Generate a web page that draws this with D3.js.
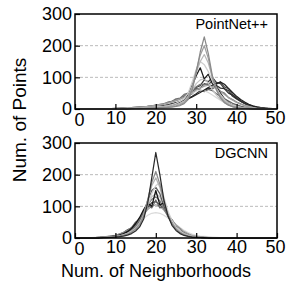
<!DOCTYPE html>
<html>
<head>
<meta charset="utf-8">
<script src="https://cdn.jsdelivr.net/npm/d3@7/dist/d3.min.js"></script>
<style>
  html, body { margin: 0; padding: 0; background: #fff; }
  text { font-family: "Liberation Sans", Arial, sans-serif; fill: #000; }
</style>
</head>
<body>
<div class="start"></div>
<script>
// number of neighborhoods (x) for every series
var neighborhoods = d3.range(0, 51);
var xTicks = [0, 10, 20, 30, 40, 50];
var yTicks = [0, 100, 200, 300];
var gridTicks = [100, 200];

// PointNet++ curves, drawn in this order
var pnColors = ["#3a3a3a", "#505050", "#747474", "#2e2e2e", "#646464", "#d9d9d9", "#222222", "#a0a0a0",
                "#c4c4c4", "#1a1a1a", "#cfcfcf", "#b8b8b8", "#9e9e9e", "#8a8a8a"];
var pnValues = [
  [0,0,0,0,0,0,0,1,1,1, 2,2,3,3,4,5,5,6,8,9, 11,13,15,18,22,26,31,38,45,55, 68,74,92,86,100,84,80,64,58,40, 32,24,17,12,8,5,3,2,1,1, 0],
  [0,0,0,0,0,0,0,0,1,1, 1,2,2,3,4,4,5,6,7,8, 10,12,14,17,20,24,28,34,40,48, 62,66,80,76,90,78,86,70,64,46, 36,26,18,12,8,5,3,2,1,1, 1],
  [0,0,0,0,0,0,0,0,0,1, 1,1,2,3,3,4,5,6,7,9, 11,15,14,22,24,32,34,46,50,64, 70,78,76,80,70,68,56,50,36,30, 22,16,11,8,5,3,2,1,1,0, 0],
  [0,0,0,0,0,0,0,0,1,1, 1,1,2,2,3,3,4,5,6,7, 8,10,12,14,17,20,24,28,34,40, 48,58,56,66,64,74,66,64,50,44, 33,25,18,13,9,6,4,2,1,1, 0],
  [0,0,0,0,0,0,0,1,1,1, 1,2,2,3,4,5,6,7,8,10, 12,14,17,20,24,28,33,40,50,58, 65,60,55,62,58,48,40,32,25,18, 13,9,6,4,3,2,1,1,0,0, 0],
  [0,0,0,0,0,0,0,0,0,1, 1,1,2,2,3,3,4,5,6,7, 9,11,13,16,19,23,28,34,42,50, 56,60,58,52,44,36,28,21,15,10, 7,5,3,2,1,1,0,0,0,0, 0],
  [0,0,0,0,0,0,0,0,0,0, 0,1,1,2,2,3,3,4,5,6, 7,9,11,13,16,19,23,27,32,38, 45,52,60,68,75,80,85,78,65,52, 40,30,22,15,10,7,4,3,2,1, 1],
  [0,0,0,0,0,0,0,0,1,1, 2,2,3,4,4,5,6,7,8,10, 12,14,16,19,23,27,32,38,45,52, 60,66,72,75,70,64,56,46,36,28, 21,15,11,8,5,3,2,1,1,0, 0],
  [0,0,0,0,0,0,0,0,0,0, 0,0,1,1,1,2,2,3,3,4, 5,6,7,8,10,13,17,24,36,58, 80,92,95,82,62,44,30,20,13,8, 5,3,2,1,1,0,0,0,0,0, 0],
  [0,0,0,0,0,0,0,0,0,0, 0,1,1,1,2,2,3,3,4,5, 6,6,8,10,12,16,22,30,45,75, 105,130,95,110,80,70,50,32,20,12, 7,5,3,2,1,1,0,0,0,0, 0],
  [0,0,0,0,0,0,0,0,1,1, 1,1,1,2,2,3,3,4,5,6, 7,8,9,11,14,18,24,32,50,85, 125,150,140,118,90,66,45,30,19,12, 8,5,3,2,2,1,1,0,0,0, 0],
  [0,0,0,0,0,0,0,0,0,0, 0,1,1,1,2,2,3,3,4,5, 5,6,7,9,11,14,18,25,40,70, 115,150,172,145,100,65,42,27,16,10, 6,4,3,2,1,1,1,0,0,0, 0],
  [0,0,0,0,0,0,0,0,0,0, 0,0,1,1,1,2,2,2,3,3, 4,5,5,6,8,10,14,20,35,65, 120,170,200,160,100,62,38,22,13,8, 5,3,2,2,1,1,0,0,0,0, 0],
  [0,0,0,0,0,0,0,0,0,0, 0,0,0,0,1,1,1,2,2,3, 3,4,4,5,6,8,11,17,30,60, 115,180,228,175,105,60,35,20,12,7, 4,3,2,1,1,0,0,0,0,0, 0]
];

// DGCNN curves, drawn in this order
var dgColors = ["#dadada", "#454545", "#9c9c9c", "#666666", "#7a7a7a", "#c0c0c0", "#5a5a5a", "#151515",
                "#d0d0d0", "#b3b3b3", "#8c8c8c", "#2b2b2b"];
var dgValues = [
  [0,0,0,1,1,2,3,4,5,7, 9,13,18,25,33,42,52,62,72,78, 80,78,72,63,53,43,33,24,17,12, 8,6,5,4,3,2,1,1,0,0, 0,0,0,0,0,0,0,0,0,0, 0],
  [0,0,0,0,1,1,2,3,4,6, 8,12,17,26,32,50,60,85,96,112, 115,104,94,72,58,38,30,17,12,7, 4,3,2,1,1,0,0,0,0,0, 0,0,0,0,0,0,0,0,0,0, 0],
  [0,0,0,0,1,1,2,3,5,6, 8,12,17,24,33,45,60,75,90,100, 105,100,88,72,56,42,30,20,13,8, 5,3,2,1,1,0,0,0,0,0, 0,0,0,0,0,0,0,0,0,0, 0],
  [0,0,0,0,0,1,1,2,3,5, 7,10,15,22,32,45,62,85,105,95, 120,95,100,70,50,34,22,14,9,5, 3,2,1,1,0,0,0,0,0,0, 0,0,0,0,0,0,0,0,0,0, 0],
  [0,0,0,0,0,1,2,2,3,4, 6,9,13,19,28,40,58,82,105,122, 130,118,92,68,48,32,21,13,8,5, 3,2,1,1,0,0,0,0,0,0, 0,0,0,0,0,0,0,0,0,0, 0],
  [0,0,0,0,0,0,1,1,2,3, 4,6,9,13,20,30,45,70,105,130, 140,130,100,70,46,30,19,12,7,4, 3,2,1,1,0,0,0,0,0,0, 0,0,0,0,0,0,0,0,0,0, 0],
  [0,0,0,0,0,0,1,2,3,4, 5,8,11,16,24,35,52,80,118,150, 160,140,100,70,46,30,19,12,7,4, 3,2,1,1,0,0,0,0,0,0, 0,0,0,0,0,0,0,0,0,0, 0],
  [0,0,0,0,0,1,1,2,3,4, 6,9,13,20,30,45,65,90,110,100, 150,105,110,75,50,32,20,12,7,4, 3,2,1,0,0,0,0,0,0,0, 0,0,0,0,0,0,0,0,0,0, 0],
  [0,0,0,0,0,1,1,2,3,4, 5,7,10,15,22,32,48,72,105,140, 165,175,130,85,55,35,22,14,9,6, 4,3,2,1,1,0,0,0,0,0, 0,0,0,0,0,0,0,0,0,0, 0],
  [0,0,0,0,0,1,1,2,2,3, 5,7,10,14,20,30,46,75,120,165, 190,160,112,75,48,31,20,12,8,5, 3,2,1,1,0,0,0,0,0,0, 0,0,0,0,0,0,0,0,0,0, 0],
  [0,0,0,0,0,0,1,1,2,3, 4,6,8,12,18,28,42,70,120,175, 210,170,115,72,45,28,17,10,6,4, 3,2,1,1,0,0,0,0,0,0, 0,0,0,0,0,0,0,0,0,0, 0],
  [0,0,0,0,0,0,0,1,1,2, 3,4,6,9,14,22,35,60,110,190, 270,200,120,70,40,24,14,8,5,3, 2,1,1,0,0,0,0,0,0,0, 0,0,0,0,0,0,0,0,0,0, 0]
];

var W = 286, H = 286;
var left = 75, plotW = 202, plotH = 95;
var font = 18;

var svg = d3.select('.start')
  .append('svg')
  .attr('width', W)
  .attr('height', H);

var x = d3.scaleLinear().domain([0, 50]).range([0, plotW]);
var y = d3.scaleLinear().domain([0, 300]).range([plotH, 0]);

var line = d3.line()
  .x(function(d, i) { return x(neighborhoods[i]); })
  .y(function(d) { return y(d); });

function panel(top, title, values, colors) {
  var g = svg.append('g').attr('transform', 'translate(' + left + ',' + top + ')');

  // dashed grid
  g.selectAll('.grid')
    .data(gridTicks)
    .enter().append('line')
    .attr('x1', 0).attr('x2', plotW)
    .attr('y1', function(d) { return y(d); })
    .attr('y2', function(d) { return y(d); })
    .attr('stroke', '#a8a8a8')
    .attr('stroke-width', 0.8)
    .attr('stroke-dasharray', '3,2');

  g.selectAll('.curve')
    .data(values)
    .enter().append('path')
    .attr('d', line)
    .attr('fill', 'none')
    .attr('stroke', function(d, i) { return colors[i]; })
    .attr('stroke-width', 1.25)
    .attr('stroke-linejoin', 'round');

  var xa = g.append('g')
    .attr('transform', 'translate(0,' + plotH + ')')
    .call(d3.axisBottom(x).tickValues(xTicks).tickSize(-5).tickPadding(2));
  var ya = g.append('g')
    .call(d3.axisLeft(y).tickValues(yTicks).tickSize(-5).tickPadding(3));
  [xa, ya].forEach(function(a) {
    a.select('.domain').remove();
    a.selectAll('line').attr('stroke', '#000').attr('stroke-width', 1.2);
    a.selectAll('text').style('font-size', font + 'px')
      .style('font-family', '"Liberation Sans", Arial, sans-serif').attr('fill', '#000');
  });
  xa.selectAll('text').filter(function(d) { return d === 0; }).attr('dx', 4).attr('dy', '0.85em');
  xa.selectAll('text').filter(function(d) { return d === 50; }).attr('dx', -2);

  g.append('rect')
    .attr('width', plotW).attr('height', plotH)
    .attr('fill', 'none').attr('stroke', '#000').attr('stroke-width', 1.5);

  g.append('text')
    .attr('x', plotW - 9)
    .attr('y', 15)
    .attr('text-anchor', 'end')
    .style('font-size', '14.5px')
    .text(title);
}

panel(14, 'PointNet++', pnValues, pnColors);
panel(143, 'DGCNN', dgValues, dgColors);

svg.append('text')
  .attr('transform', 'translate(26,120) rotate(-90)')
  .attr('text-anchor', 'middle')
  .style('font-size', '19px')
  .text('Num. of Points');

svg.append('text')
  .attr('x', 156)
  .attr('y', 277)
  .attr('text-anchor', 'middle')
  .style('font-size', font + 'px')
  .text('Num. of Neighborhoods');
</script>
</body>
</html>
